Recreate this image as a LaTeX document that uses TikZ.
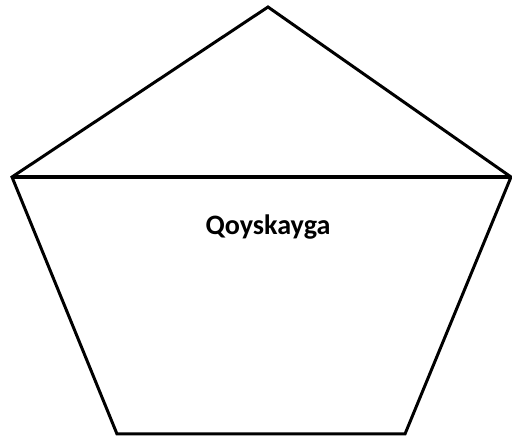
\documentclass[tikz,border=0pt]{standalone}
\usepackage{fontspec}
\setmainfont{Carlito}
\usepackage{tikz}

\begin{document}
\begin{tikzpicture}[x=0.02cm, y=-0.02cm, line width=1.7pt, line join=miter]
        \useasboundingbox (0,0) rectangle (512,438);

        % Vértices
        \coordinate (top) at (268,7);
        \coordinate (left) at (12,177);
        \coordinate (right) at (511,177);
        \coordinate (botleft) at (117,434);
        \coordinate (botright) at (405,434);

        % Pentágono
        \draw (top) -- (right) -- (botright) -- (botleft) -- (left) -- cycle;

        % Línea horizontal
        \draw[line width=2.2pt] (left) -- (right);

        % Texto
        \node[font=\fontsize{16}{19}\selectfont\bfseries] (label) at (268,227) {Qoyskayga};
    \end{tikzpicture}
\end{document}
